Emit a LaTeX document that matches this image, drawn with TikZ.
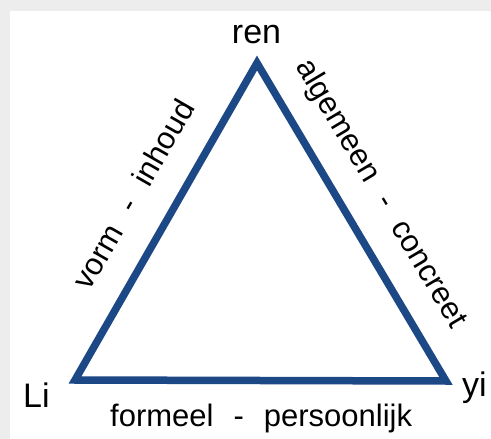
\documentclass[tikz,border=0pt]{standalone}
\usepackage{fontspec}
\setmainfont{Liberation Sans}
\definecolor{triblue}{HTML}{1D4886}
\definecolor{bggray}{HTML}{EDEDED}
\begin{document}
\begin{tikzpicture}[x=1pt,y=-1pt,
  tri/.style={draw=triblue, line width=7.5pt, line join=miter},
  vlabel/.style={inner sep=0pt, font=\fontsize{34}{40}\selectfont},
  elabel/.style={inner sep=0pt, font=\fontsize{31}{37}\selectfont}]
\useasboundingbox (0,0) rectangle (491,439);
\fill[bggray] (0,0) rectangle (491,439);
\fill[white] (10,11) rectangle (491,439);
\coordinate (R) at (257,63);
\coordinate (L) at (75,380);
\coordinate (Y) at (446,381);
\draw[tri] (L) -- (R) -- (Y) -- cycle;
\node[vlabel, anchor=base] (ren) at (256.5,43) {ren};
\node[vlabel, anchor=base west] (li) at (23,407) {Li};
\node[vlabel, anchor=base west] (yi) at (462,396) {yi};
\node[elabel, anchor=base west] (bottom) at (110,426) {formeel\hspace{20pt}-\hspace{20pt}persoonlijk};
\path (L) -- (R) node[elabel, pos=0.52, sloped, anchor=base, yshift=31pt] (left) {vorm\hspace{20pt}-\hspace{20pt}inhoud};
\path (R) -- (Y) node[elabel, pos=0.475, sloped, anchor=base, yshift=31pt] (right) {algemeen\hspace{20pt}-\hspace{20pt}concreet};
\end{tikzpicture}
\end{document}
